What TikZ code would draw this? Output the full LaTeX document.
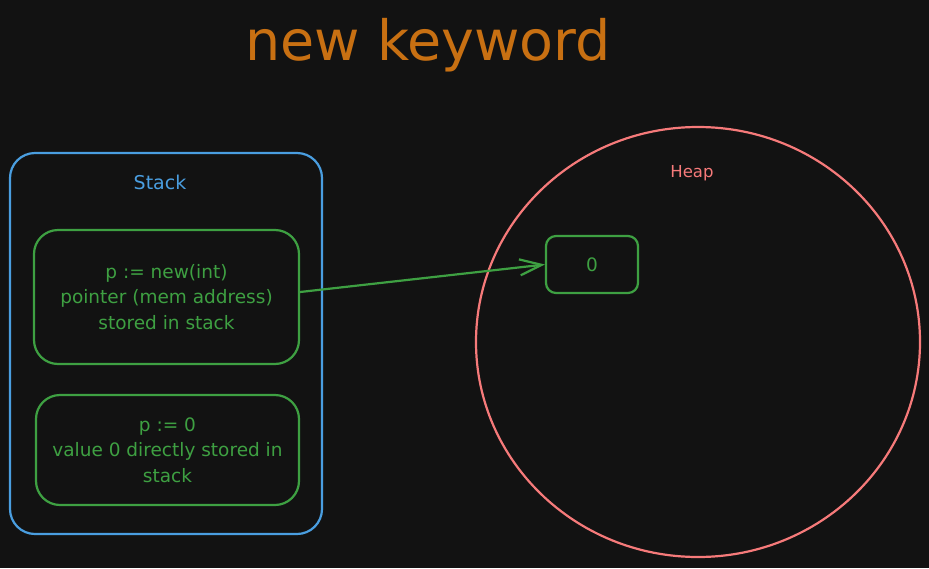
\documentclass[tikz,border=0pt]{standalone}
\usepackage{fontspec}
\setmainfont{DejaVu Sans}
\usetikzlibrary{shapes.geometric,arrows.meta}
\definecolor{bg}{RGB}{18,18,18}
\definecolor{titleor}{RGB}{200,112,18}
\definecolor{stackbl}{RGB}{74,158,224}
\definecolor{boxgr}{RGB}{62,160,66}
\definecolor{heapred}{RGB}{246,122,122}
\begin{document}
\begin{tikzpicture}[x=1pt,y=-1pt,
  container/.style={draw=stackbl,line width=2.2pt,rounded corners=25pt,minimum width=312pt,minimum height=381pt,inner sep=0pt},
  membox/.style={draw=boxgr,line width=2.2pt,rounded corners=24pt,inner sep=0pt,text=boxgr,align=center,
     font=\fontsize{18.5}{25.5}\selectfont},
  heapshape/.style={draw=heapred,line width=2.2pt,ellipse,minimum width=444pt,minimum height=430pt,inner sep=0pt},
  lbl/.style={inner sep=0pt},
  ptr/.style={draw=boxgr,line width=2.2pt,-{Straight Barb[length=22pt,width=16pt,line width=2.2pt]}}
]
\path[fill=bg] (0,0) rectangle (929,568);
\useasboundingbox (0,0) rectangle (929,568);
\node[font=\fontsize{55.5}{60}\selectfont,text=titleor,inner sep=0pt] (title) at (428,45) {new keyword};
\node[container] (stack) at (166,343.5) {};
\node[lbl,text=stackbl,font=\fontsize{19}{22}\selectfont] (stacklbl) at (160,182) {Stack};
\node[membox,minimum width=265pt,minimum height=134pt] (box1) at (166.5,297) {p := new(int)\\pointer (mem address)\\stored in stack};
\node[membox,minimum width=263pt,minimum height=110pt] (box2) at (167.5,450) {p := 0\\value 0 directly stored in\\stack};
\node[heapshape] (heap) at (698,342) {};
\node[lbl,text=heapred,font=\fontsize{16.5}{20}\selectfont] (heaplbl) at (692,173) {Heap};
\node[membox,rounded corners=10pt,minimum width=92pt,minimum height=57pt] (box0) at (592,264.5) {0};
\draw[ptr] ([yshift=5pt]box1.east) -- (box0.west);
\end{tikzpicture}
\end{document}
